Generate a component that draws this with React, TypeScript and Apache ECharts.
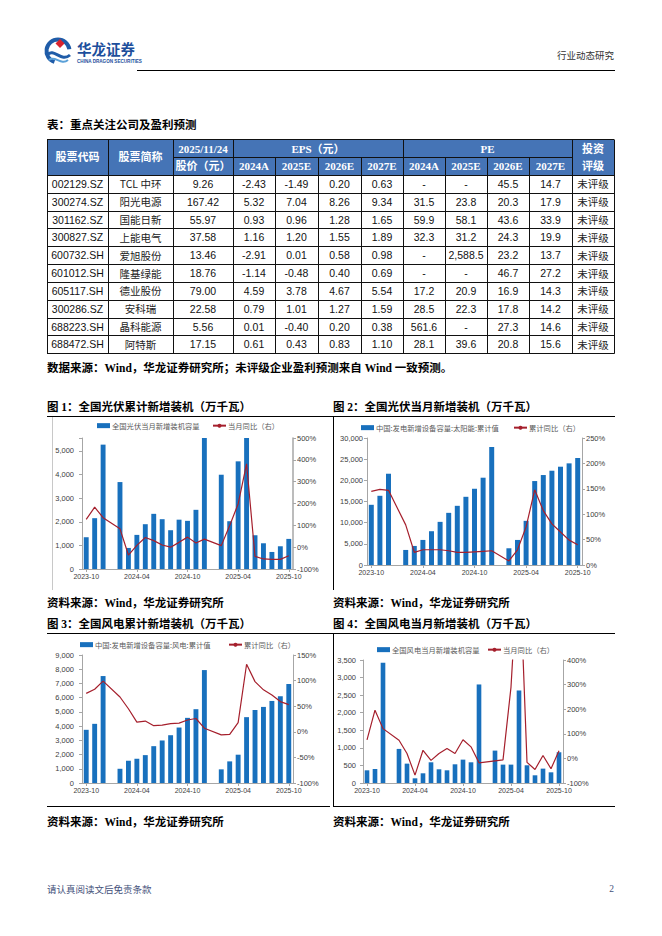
import React, { useEffect, useRef } from 'react';
import * as echarts from 'echarts';

// ---------- data ----------
const months = [
  '2023-10', '2023-11', '2023-12', '2024-01', '2024-02', '2024-03', '2024-04', '2024-05', '2024-06',
  '2024-07', '2024-08', '2024-09', '2024-10', '2024-11', '2024-12', '2025-01', '2025-02', '2025-03',
  '2025-04', '2025-05', '2025-06', '2025-07', '2025-08', '2025-09', '2025-10',
];

// Fig 1: PV monthly additions (万千瓦) + YoY %
const pvMonthly = [1346, 2153, 5269, null, 3683, 892, 1445, 1898, 2337, 2110, 1643, 2090, 2040, 2507, 7000, null, 3994, 2025, 4561, 9300, 1430, 1090, 722, 963, 1275];
const pvMonthlyYoY = [127, 183, 135, null, 84, -36, 8, 44, 30, 10, 0, 22, 46, 19, 37, null, 7, 99, 198, 382, -42, -54, -56, -56, -39];

// Fig 2: PV cumulative additions + cumulative YoY %
const pvCum = [14220, 16350, 21560, null, 3555, 4500, 5920, 7980, 10190, 12320, 13980, 16110, 18010, 20620, 27880, null, 3950, 5920, 10430, 19830, 21250, 22270, 23220, 24010, 25280];
const pvCumYoY = [145, 149, 147, null, 79, 25, 30, 30, 30, 28, 25, 25, 26, 27, 28, null, 8, 30, 75, 148, 107, 81, 65, 49, 40];

// Fig 3: wind cumulative additions + cumulative YoY %
const windCum = [3740, 4160, 7520, null, 1000, 1565, 1705, 1960, 2590, 2990, 3360, 3900, 4580, 5190, 7940, null, 960, 1520, 1990, 4630, 5140, 5350, 5770, 6100, 6960];
const windCumYoY = [75, 83, 99, null, 68, 45, 19, 21, 12, 13, 16, 17, 23, 26, 7, null, -6, -5, 18, 132, 98, 82, 72, 59, 53];

// Fig 4: wind monthly additions + YoY %
const windMonthly = [361, 399, 3422, null, 970, 551, 133, 276, 589, 390, 361, 532, 665, 589, 2804, null, 922, 523, 523, 2633, 504, 219, 409, 304, 875];
const windMonthlyYoY = [75, 196, 121, null, 74, 20, -68, 33, -8, 20, 40, 20, 76, 47, -18, null, -10, -6, 290, 850, -16, -45, 12, -42, 31];

// Table
const codes = ['002129.SZ', '300274.SZ', '301162.SZ', '300827.SZ', '600732.SH', '601012.SH', '605117.SH', '300286.SZ', '688223.SH', '688472.SH'];
const names = ['TCL 中环', '阳光电源', '国能日新', '上能电气', '爱旭股份', '隆基绿能', '德业股份', '安科瑞', '晶科能源', '阿特斯'];
const prices = [9.26, 167.42, 55.97, 37.58, 13.46, 18.76, 79.0, 22.58, 5.56, 17.15];
const eps2024 = [-2.43, 5.32, 0.93, 1.16, -2.91, -1.14, 4.59, 0.79, 0.01, 0.61];
const eps2025 = [-1.49, 7.04, 0.96, 1.2, 0.01, -0.48, 3.78, 1.01, -0.4, 0.43];
const eps2026 = [0.2, 8.26, 1.28, 1.55, 0.58, 0.4, 4.67, 1.27, 0.2, 0.83];
const eps2027 = [0.63, 9.34, 1.65, 1.89, 0.98, 0.69, 5.54, 1.59, 0.38, 1.1];
const pe2024 = [null, 31.5, 59.9, 32.3, null, null, 17.2, 28.5, 561.6, 28.1];
const pe2025 = [null, 23.8, 58.1, 31.2, 2588.5, null, 20.9, 22.3, null, 39.6];
const pe2026 = [45.5, 20.3, 43.6, 24.3, 23.2, 46.7, 16.9, 17.8, 27.3, 20.8];
const pe2027 = [14.7, 17.9, 33.9, 19.9, 13.7, 27.2, 14.3, 14.2, 14.6, 15.6];
const ratings = ['未评级', '未评级', '未评级', '未评级', '未评级', '未评级', '未评级', '未评级', '未评级', '未评级'];
const yearCols = ['2024A', '2025E', '2026E', '2027E'];

// ---------- styles ----------
const SANS = '"Liberation Sans", "Noto Sans CJK SC", sans-serif';
const SERIF = '"Liberation Serif", "Noto Sans CJK SC", serif';
const CJK = '"Noto Sans CJK SC", sans-serif';
const BLUE = '#1870bd';
const RED = '#a51f2c';
const AXIS = '#a6a6a6';
const LABEL = '#404040';
const HEAD_BG = '#4574b6';

function withCommas(s: string): string {
  const neg = s.startsWith('-');
  const body = neg ? s.slice(1) : s;
  const [i, d] = body.split('.');
  const ii = i.replace(/\B(?=(\d{3})+(?!\d))/g, ',');
  return (neg ? '-' : '') + ii + (d !== undefined ? '.' + d : '');
}
const fmt2 = (v: number | null) => (v == null ? '-' : withCommas(v.toFixed(2)));
const fmt1 = (v: number | null) => (v == null ? '-' : withCommas(v.toFixed(1)));

function buildGraphic(): any[] {
  const els: any[] = [];
  const T = (x: number, y: number, text: string, o: any = {}) =>
    els.push({
      type: 'text', x, y, silent: true,
      style: {
        text, fill: o.fill || '#000', fontSize: o.size || 10, fontWeight: o.weight || 'normal',
        fontFamily: o.family || SANS, align: o.align || 'left', verticalAlign: 'middle',
        textAlign: o.align || 'left', textVerticalAlign: 'middle',
      },
    });
  const L = (x1: number, y1: number, x2: number, y2: number, color = '#000', w = 1) =>
    els.push({ type: 'line', silent: true, shape: { x1, y1, x2, y2 }, style: { stroke: color, lineWidth: w } });
  const R = (x: number, y: number, w: number, h: number, fill: string) =>
    els.push({ type: 'rect', silent: true, shape: { x, y, width: w, height: h }, style: { fill } });

  // ---- header / logo ----
  els.push({ type: 'arc', silent: true, shape: { cx: 58, cy: 51, r: 11.5, startAngle: Math.PI * 0.6, endAngle: Math.PI * 1.95 }, style: { stroke: '#1f5ca8', lineWidth: 4, fill: null } });
  els.push({ type: 'bezierCurve', silent: true, shape: { x1: 47, y1: 55, x2: 70, y2: 55, cpx1: 54, cpy1: 47, cpx2: 61, cpy2: 63 }, style: { stroke: '#1f5ca8', lineWidth: 3, fill: null } });
  els.push({ type: 'bezierCurve', silent: true, shape: { x1: 49, y1: 60, x2: 68, y2: 60, cpx1: 55, cpy1: 55, cpx2: 61, cpy2: 66 }, style: { stroke: '#5aa0d8', lineWidth: 2, fill: null } });
  els.push({ type: 'polygon', silent: true, shape: { points: [[60, 39], [64.5, 43.5], [60, 48], [55.5, 43.5]] }, style: { fill: '#d9232d' } });
  T(77, 48, '华龙证券', { size: 14.5, weight: 'bold', family: CJK, fill: '#1d4f9c' });
  T(77, 61, 'CHINA DRAGON SECURITIES', { size: 4.6, weight: 'bold', fill: '#1d4f9c' });
  T(614, 55, '行业动态研究', { size: 9.5, family: CJK, fill: '#333', align: 'right' });
  L(137, 70.5, 615, 70.5, '#000', 1);

  // ---- table ----
  T(47, 125, '表：重点关注公司及盈利预测', { size: 11.5, weight: 'bold', family: SERIF });
  const cx = [47, 108, 173, 233, 275, 318, 361, 403, 445, 487, 529, 572, 614];
  const top = 139.5, mid = 157.5, head = 175;
  const rowH = (353.3 - 175) / codes.length;
  const bottom = head + rowH * codes.length;
  R(cx[0], top, cx[12] - cx[0], head - top, HEAD_BG);
  const hf = { size: 11, weight: 'bold', family: SERIF, fill: '#fff', align: 'center' };
  const r1 = (top + mid) / 2, r2 = (mid + head) / 2, rc = (top + head) / 2;
  T((cx[0] + cx[1]) / 2, rc, '股票代码', hf);
  T((cx[1] + cx[2]) / 2, rc, '股票简称', hf);
  T((cx[2] + cx[3]) / 2, r1, '2025/11/24', hf);
  T((cx[2] + cx[3]) / 2, r2, '股价（元）', hf);
  T((cx[3] + cx[7]) / 2, r1, 'EPS（元）', hf);
  T((cx[7] + cx[11]) / 2, r1, 'PE', hf);
  T((cx[11] + cx[12]) / 2, r1, '投资', hf);
  T((cx[11] + cx[12]) / 2, r2, '评级', hf);
  for (let k = 0; k < 4; k++) {
    T((cx[3 + k] + cx[4 + k]) / 2, r2, yearCols[k], hf);
    T((cx[7 + k] + cx[8 + k]) / 2, r2, yearCols[k], hf);
  }
  // grid lines
  L(cx[0], top, cx[12], top, '#111');
  L(cx[2], mid, cx[11], mid, '#111');
  for (let r = 0; r <= codes.length; r++) {
    const y = Math.round(head + rowH * r) + 0.5;
    L(cx[0], y, cx[12], y, '#111');
  }
  const full = [0, 1, 2, 3, 7, 11, 12];
  for (let c = 0; c < cx.length; c++) {
    const x = cx[c] + 0.5;
    L(x, full.includes(c) ? top : mid, x, bottom + 0.5, '#111');
  }
  const df = { size: 10.5, family: SANS, fill: '#111', align: 'center' };
  const nf = { size: 10.5, family: CJK, fill: '#222', align: 'center' };
  for (let r = 0; r < codes.length; r++) {
    const y = head + rowH * (r + 0.5);
    const cells = [
      codes[r], names[r], fmt2(prices[r]), fmt2(eps2024[r]), fmt2(eps2025[r]), fmt2(eps2026[r]), fmt2(eps2027[r]),
      fmt1(pe2024[r]), fmt1(pe2025[r]), fmt1(pe2026[r]), fmt1(pe2027[r]), ratings[r],
    ];
    cells.forEach((t, c) => {
      const isCjk = c === 1 || c === 11;
      T((cx[c] + cx[c + 1]) / 2, y, t, isCjk ? nf : df);
    });
  }
  T(47, 368, '数据来源：Wind，华龙证券研究所；未评级企业盈利预测来自 Wind 一致预测。', { size: 11.5, weight: 'bold', family: SERIF });

  // ---- figure titles / frames ----
  const tf = { size: 11.5, weight: 'bold', family: SERIF };
  T(47, 407, '图 1：全国光伏累计新增装机（万千瓦）', tf);
  T(333, 407, '图 2：全国光伏当月新增装机（万千瓦）', tf);
  L(47, 416.5, 615, 416.5, '#000', 1);
  L(52.5, 417, 52.5, 590, '#c8c8c8', 1);
  L(333.5, 417, 333.5, 590, '#000', 1);
  T(47, 603, '资料来源：Wind，华龙证券研究所', tf);
  T(333, 603, '资料来源：Wind，华龙证券研究所', tf);

  T(47, 624, '图 3：全国风电累计新增装机（万千瓦）', tf);
  T(333, 624, '图 4：全国风电当月新增装机（万千瓦）', tf);
  L(47, 633.5, 615, 633.5, '#000', 1);
  L(333.5, 634, 333.5, 807, '#000', 1);
  L(47, 806.5, 330, 806.5, '#000', 1);
  L(333, 806.5, 615, 806.5, '#000', 1);
  T(47, 822, '资料来源：Wind，华龙证券研究所', tf);
  T(333, 822, '资料来源：Wind，华龙证券研究所', tf);

  // ---- footer ----
  T(47, 889, '请认真阅读文后免责条款', { size: 9.5, family: CJK, fill: '#44517a' });
  T(614, 889, '2', { size: 9.5, family: SERIF, fill: '#44517a', align: 'right' });
  return els;
}

const thousands = (v: number) => withCommas(String(Math.round(v)));

function buildOption(): any {
  const grids = [
    { left: 82, top: 438, width: 211, height: 131 },
    { left: 367, top: 438, width: 215, height: 127 },
    { left: 82, top: 655, width: 211, height: 128 },
    { left: 363, top: 660, width: 200, height: 123 },
  ];
  const leftAxes = [
    { min: 0, max: 5550, interval: 1000, step: 1000 },
    { min: 0, max: 30000, interval: 5000, step: 5000 },
    { min: 0, max: 9000, interval: 1000, step: 1000 },
    { min: 0, max: 3500, interval: 500, step: 500 },
  ];
  const rightAxes = [
    { min: -100, max: 500, interval: 100 },
    { min: 0, max: 250, interval: 50 },
    { min: -100, max: 150, interval: 50 },
    { min: -100, max: 400, interval: 100 },
  ];
  const leftMargins = [8, 4, 8, 7];
  const bars = [pvMonthly, pvCum, windCum, windMonthly];
  const lines = [pvMonthlyYoY, pvCumYoY, windCumYoY, windMonthlyYoY];
  const barNames = ['全国光伏当月新增装机容量', '中国:发电新增设备容量:太阳能:累计值', '中国:发电新增设备容量:风电:累计值', '全国风电当月新增装机容量'];
  const lineNames = ['当月同比（右）', '累计同比（右）', '累计同比（右）', '当月同比（右）'];
  const legendPos = [
    { bar: [97, 427], line: [212, 427] },
    { bar: [361, 429], line: [513, 429] },
    { bar: [80, 646], line: [228, 646] },
    { bar: [377, 651], line: [487, 651] },
  ];

  const xAxis = grids.map((_, i) => ({
    type: 'category', gridIndex: i, data: months, boundaryGap: true,
    axisLine: { show: true, lineStyle: { color: AXIS, width: 1 } },
    axisTick: { show: true, interval: 5, alignWithLabel: true, length: 3, lineStyle: { color: AXIS } },
    axisLabel: { interval: 5, fontSize: 7, color: LABEL, margin: 4, fontFamily: SANS },
    splitLine: { show: false },
  }));
  const yAxis: any[] = [];
  grids.forEach((_, i) => {
    const la = leftAxes[i];
    yAxis.push({
      type: 'value', gridIndex: i, position: 'left', min: la.min, max: la.max, interval: la.interval,
      splitLine: { show: false },
      axisLine: { show: true, lineStyle: { color: AXIS } },
      axisTick: { show: true, length: 3, lineStyle: { color: AXIS } },
      axisLabel: {
        fontSize: 7.5, color: LABEL, margin: leftMargins[i], fontFamily: SANS,
        formatter: (v: number) => (v % la.step === 0 ? thousands(v) : ''),
      },
    });
    const ra = rightAxes[i];
    yAxis.push({
      type: 'value', gridIndex: i, position: 'right', min: ra.min, max: ra.max, interval: ra.interval,
      splitLine: { show: false },
      axisLine: { show: true, lineStyle: { color: AXIS, width: i === 0 ? 1.5 : 1 } },
      axisTick: { show: true, length: 3, lineStyle: { color: AXIS } },
      axisLabel: { fontSize: 7.5, color: LABEL, margin: 4, fontFamily: SANS, formatter: '{value}%' },
    });
  });
  const series: any[] = [];
  const legend: any[] = [];
  grids.forEach((_, i) => {
    series.push({
      type: 'bar', name: barNames[i], xAxisIndex: i, yAxisIndex: i * 2, data: bars[i],
      barWidth: '58%', itemStyle: { color: BLUE }, clip: true,
    });
    series.push({
      type: 'line', name: lineNames[i], xAxisIndex: i, yAxisIndex: i * 2 + 1, data: lines[i],
      symbol: 'none', connectNulls: true, clip: true,
      lineStyle: { color: RED, width: 1.2 }, itemStyle: { color: RED },
    });
    const lp = legendPos[i];
    const lg = (name: string, pos: number[], icon?: string) => ({
      show: true, left: pos[0], top: pos[1] - 5, padding: 0, itemWidth: 13, itemHeight: 5,
      selectedMode: false, orient: 'horizontal',
      data: [icon ? { name, icon } : { name }],
      textStyle: { fontSize: 7.3, color: '#595959', fontFamily: CJK, padding: [0, 0, 0, -3] },
    });
    legend.push(lg(barNames[i], lp.bar, 'rect'));
    legend.push(lg(lineNames[i], lp.line));
  });

  return {
    animation: false,
    backgroundColor: '#ffffff',
    textStyle: { fontFamily: SANS },
    grid: grids.map((g) => ({ ...g, containLabel: false })),
    xAxis, yAxis, series, legend,
    graphic: { elements: buildGraphic() },
  };
}

export default function App() {
  const ref = useRef<HTMLDivElement | null>(null);
  useEffect(() => {
    if (!ref.current) return;
    const chart = echarts.init(ref.current, undefined, { renderer: 'svg' });
    chart.setOption(buildOption());
    return () => chart.dispose();
  }, []);
  return (
    <div
      ref={ref}
      style={{ position: 'absolute', left: 0, top: 0, width: 662, height: 936, background: '#fff' }}
    />
  );
}
